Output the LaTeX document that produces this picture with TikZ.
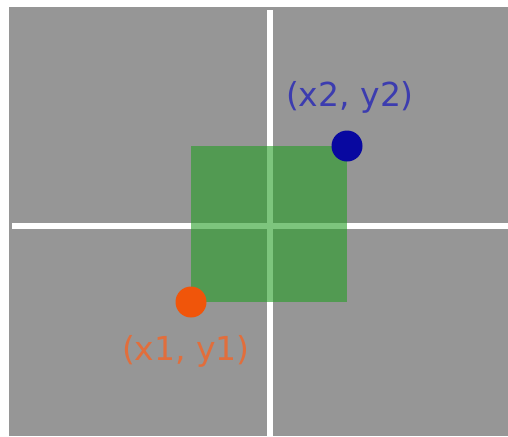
\documentclass[tikz,border=0pt]{standalone}
\usepackage{fontspec}
\setmainfont{DejaVu Sans}
\definecolor{bggray}{RGB}{150,150,150}
\definecolor{sqgreen}{RGB}{35,158,35}
\definecolor{dotblue}{RGB}{8,8,160}
\definecolor{dotorange}{RGB}{240,85,10}
\definecolor{lblblue}{RGB}{60,60,175}
\definecolor{lblorange}{RGB}{225,110,60}
\begin{document}
\begin{tikzpicture}[x=0.5pt, y=-0.5pt,
    axis/.style={white, line width=2.6pt},
    dot/.style={circle, inner sep=0pt, minimum size=15.5pt},
    lbl/.style={font=\fontsize{16.5}{18}\selectfont}]
    \useasboundingbox (0,0) rectangle (508,436);

    % Background
    \fill[bggray] (9,7) rectangle (508,436);

    % Axes
    \draw[axis] (12,226) -- (508,226);
    \draw[axis] (270,10) -- (270,436);

    % Corners
    \coordinate (c1) at (191,302);
    \coordinate (c2) at (347,146);

    % Square
    \fill[sqgreen, fill opacity=0.59] (c1) rectangle (c2);

    % Points
    \node[dot, fill=dotorange] (p1) at (c1) {};
    \node[dot, fill=dotblue] (p2) at (c2) {};

    % Labels
    \node[lbl, text=lblorange] (l1) at (186,351) {(x1, y1)};
    \node[lbl, text=lblblue] (l2) at (350,97) {(x2, y2)};
\end{tikzpicture}
\end{document}
